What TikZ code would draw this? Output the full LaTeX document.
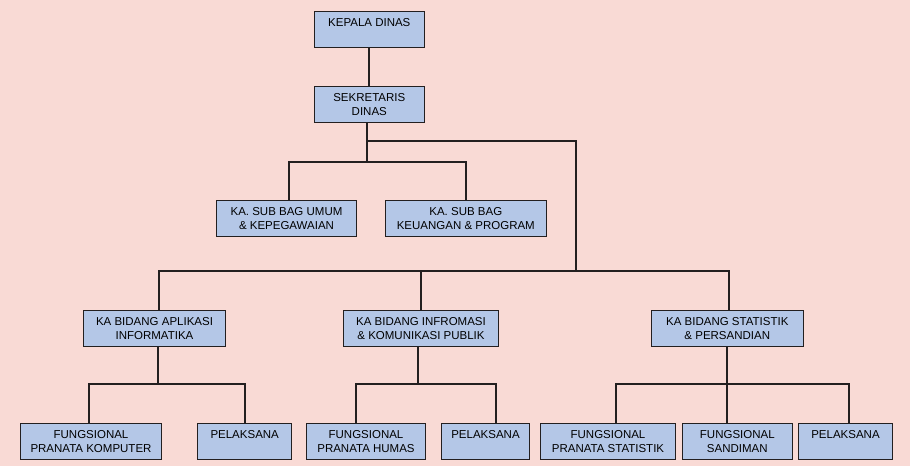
\documentclass[tikz,border=0pt]{standalone}
\usepackage{fontspec}
\setmainfont{Liberation Sans}
\definecolor{bgpink}{HTML}{F9DAD5}
\definecolor{boxblue}{HTML}{B4C7E7}
\definecolor{garisgelap}{HTML}{231F20}

\begin{document}
\begin{tikzpicture}[x=1pt,y=-1pt,
  jabatan/.style={draw=garisgelap, fill=boxblue, line width=0.9pt, minimum height=36pt, inner sep=0pt, align=center, font=\fontsize{11.5}{14.3}\selectfont},
  garis/.style={draw=garisgelap, line width=2pt}]
\fill [color=bgpink] (0,0) rectangle (910,466);
\useasboundingbox (0,0) rectangle (910,466);
\node[jabatan, minimum width=110pt] (kepala) at (369.3,29.5) {KEPALA DINAS\\\mbox{}};
\node[jabatan, minimum width=110pt] (sekretaris) at (369.3,104.5) {SEKRETARIS\\DINAS};
\node[jabatan, minimum width=139.6pt] (umum) at (286.5,218.3) {KA. SUB BAG UMUM\\\& KEPEGAWAIAN};
\node[jabatan, minimum width=161pt] (keuangan) at (465.8,218.3) {KA. SUB BAG\\KEUANGAN \& PROGRAM};
\node[jabatan, minimum width=142.4pt] (aplikasi) at (154.5,328.7) {KA BIDANG APLIKASI\\INFORMATIKA};
\node[jabatan, minimum width=154.6pt] (informasi) at (421,328.7) {KA BIDANG INFROMASI\\\& KOMUNIKASI PUBLIK};
\node[jabatan, minimum width=152pt] (statistik) at (727.3,328.7) {KA BIDANG STATISTIK\\\& PERSANDIAN};
\node[jabatan, minimum width=140.6pt] (komputer) at (91,441.3) {FUNGSIONAL\\PRANATA KOMPUTER};
\node[jabatan, minimum width=94pt] (pelaksana1) at (244.7,441.3) {PELAKSANA\\\mbox{}};
\node[jabatan, minimum width=118.6pt] (humas) at (366,441.3) {FUNGSIONAL\\PRANATA HUMAS};
\node[jabatan, minimum width=87.6pt] (pelaksana2) at (485.5,441.3) {PELAKSANA\\\mbox{}};
\node[jabatan, minimum width=134.6pt] (pstatistik) at (608,441.3) {FUNGSIONAL\\PRANATA STATISTIK};
\node[jabatan, minimum width=110pt] (sandiman) at (737.3,441.3) {FUNGSIONAL\\SANDIMAN};
\node[jabatan, minimum width=94.4pt] (pelaksana3) at (845.5,441.3) {PELAKSANA\\\mbox{}};
% garis atas
\coordinate (sekbus) at (366.7,141);
\coordinate (bagbus) at (366.7,161.7);
\coordinate (bidbus) at (576,271);
\draw[garis] (kepala) -- (sekretaris);
\draw[garis] (sekretaris.south -| bagbus) -- (bagbus);
\draw[garis] (sekbus) -| (bidbus);
\draw[garis] ([xshift=2.5pt]umum.north) |- (bagbus) -| (keuangan.north);
\draw[garis] ([xshift=4.5pt]aplikasi.north) |- (bidbus) -| ([xshift=1.7pt]statistik.north);
\draw[garis] (informasi.north) -- (informasi.north |- bidbus);
% garis bawah
\coordinate (aplbus) at (158,384);
\coordinate (infbus) at (417.7,384);
\coordinate (statbus) at (726.7,384);
\draw[garis] (aplikasi.south -| aplbus) -- (aplbus);
\draw[garis] ([xshift=-2pt]komputer.north) |- (aplbus) -| (pelaksana1.north);
\draw[garis] (informasi.south -| infbus) -- (infbus);
\draw[garis] ([xshift=-10pt]humas.north) |- (infbus) -| ([xshift=10.5pt]pelaksana2.north);
\draw[garis] (statistik.south -| statbus) -- (sandiman.north -| statbus);
\draw[garis] ([xshift=7.7pt]pstatistik.north) |- (statbus) -| ([xshift=3.8pt]pelaksana3.north);
\end{tikzpicture}
\end{document}
